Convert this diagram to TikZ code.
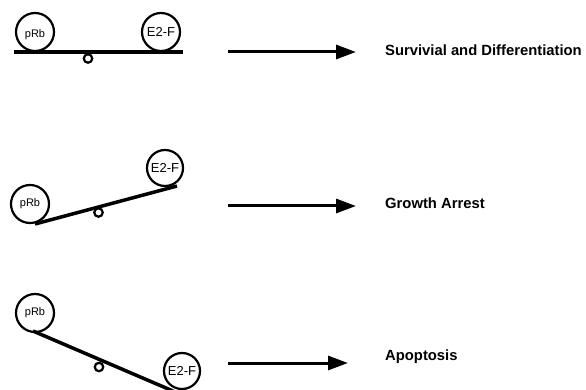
\documentclass[tikz,border=0pt]{standalone}
\usepackage{fontspec}
\setmainfont{Liberation Sans}
\usetikzlibrary{arrows.meta}
\begin{document}
\begin{tikzpicture}[x=1pt,y=-1pt,
  ball/.style={circle,draw,line width=2.2pt,inner sep=0pt},
  lever/.style={line width=3.5pt},
  pivot/.style={circle,draw,line width=2.2pt,inner sep=0pt,minimum size=8.5pt},
  flow/.style={line width=3pt,-{Triangle[length=20pt,width=14pt]}},
  outcome/.style={anchor=west,font=\bfseries\fontsize{14.8}{16}\selectfont,inner sep=0pt},
  lbl/.style={font=\fontsize{11}{12}\selectfont},
  lblE/.style={font=\fontsize{13}{14}\selectfont}]
\useasboundingbox (0,0) rectangle (586,390);
% Panel 1
\coordinate (l1a) at (14,52);
\coordinate (l1b) at (183,52);
\draw[lever] (l1a) -- (l1b);
\node[ball,minimum size=38pt] (r1) at (35,32) {};
\node[lbl] at ([yshift=-3pt]r1.center) {pRb};
\node[ball,minimum size=38pt] (e1) at (161,32) {};
\node[lblE] at (e1.center) {E2-F};
\node[pivot] (p1) at (88,58.5) {};
\coordinate (a1s) at (228,52);
\coordinate (a1e) at (356,52);
\draw[flow] (a1s) -- (a1e);
\node[outcome] (t1) at (385,50) {Survivial and Differentiation};
% Panel 2
\coordinate (l2a) at (35,224);
\coordinate (l2b) at (177,186);
\draw[lever] (l2a) -- (l2b);
\node[ball,minimum size=38pt] (r2) at (30,204) {};
\node[lbl] at (r2.center) {pRb};
\node[ball,minimum size=36pt] (e2) at (165,168) {};
\node[lblE] at (e2.center) {E2-F};
\node[pivot] (p2) at (98.5,212.5) {};
\coordinate (a2s) at (228,206);
\coordinate (a2e) at (356,206);
\draw[flow] (a2s) -- (a2e);
\node[outcome] (t2) at (385,203) {Growth Arrest};
% Panel 3
\coordinate (l3a) at (33,331);
\coordinate (l3b) at (173,391);
\draw[lever] (l3a) -- (l3b);
\node[ball,minimum size=38pt] (r3) at (35,313) {};
\node[lbl] at (r3.center) {pRb};
\node[ball,minimum size=36pt] (e3) at (182,371) {};
\node[lblE] at (e3.center) {E2-F};
\node[pivot] (p3) at (99,367) {};
\coordinate (a3s) at (228,363);
\coordinate (a3e) at (348,363);
\draw[flow] (a3s) -- (a3e);
\node[outcome] (t3) at (385,357) {Apoptosis};
\end{tikzpicture}
\end{document}
